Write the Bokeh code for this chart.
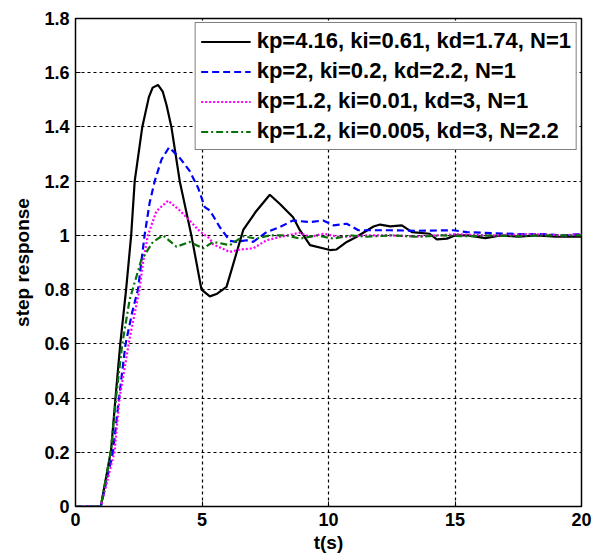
from bokeh.plotting import figure
from bokeh.models import Legend, LegendItem, FixedTicker, Range1d
from bokeh.embed import file_html
from bokeh.resources import INLINE

# ---- data ----
t_black = [0, 1.0, 1.41, 1.58, 1.77, 2.0, 2.2, 2.34, 2.64, 2.9, 3.05, 3.26, 3.45, 3.6, 3.79, 4.12, 4.58, 4.98, 5.31, 5.6, 5.97,
           6.36, 6.63, 7.15, 7.68, 8.08, 8.6, 8.87, 9.27, 10.06, 10.32, 10.72, 11.1, 11.78, 12.04, 12.44, 12.9, 13.3,
           14.0, 14.28, 14.68, 15.0, 15.5, 16.2, 16.8, 17.5, 18.2, 19.0, 20.0]
v_black = [0, 0, 0.21, 0.40, 0.60, 0.80, 1.00, 1.20, 1.40, 1.51, 1.545, 1.555, 1.53, 1.48, 1.40, 1.20, 1.00, 0.80, 0.775, 0.785, 0.81,
           0.934, 1.02, 1.09, 1.15, 1.116, 1.067, 1.019, 0.964, 0.946, 0.948, 0.976, 0.994, 1.033, 1.04, 1.033, 1.037, 1.012,
           1.006, 0.985, 0.988, 1.0, 1.0, 0.99, 1.0, 0.995, 1.0, 0.995, 0.995]

t_blue = [0, 1.0, 1.48, 1.72, 1.98, 2.25, 2.47, 2.73, 2.93, 3.13, 3.4, 3.70, 4.12, 4.51, 4.84, 5.11, 5.31, 5.70, 6.1,
          6.36, 6.76, 7.02, 7.55, 8.08, 8.6, 9.27, 9.79, 10.19, 10.72, 11.18, 12.44, 13.5, 14.94, 15.47, 16.5, 17.5,
          18.5, 19.3, 20.0]
v_blue = [0, 0, 0.20, 0.40, 0.60, 0.72, 0.80, 1.00, 1.12, 1.20, 1.28, 1.325, 1.286, 1.238, 1.177, 1.104, 1.092, 1.031, 0.98,
          0.976, 0.982, 0.976, 1.012, 1.031, 1.055, 1.049, 1.055, 1.037, 1.043, 1.019, 1.019, 1.017, 1.019, 1.012, 1.008,
          1.005, 1.005, 1.0, 1.005]

t_mag = [0, 1.0, 1.54, 1.74, 2.14, 2.53, 2.67, 2.86, 3.2, 3.66, 4.12, 4.51, 4.91, 5.31, 5.44, 6.1, 6.5, 7.02, 7.55,
         8.08, 8.87, 9.27, 9.79, 10.46, 11.5, 12.5, 13.5, 15.0, 16.5, 18.0, 19.3, 20.0]
v_mag = [0, 0, 0.20, 0.40, 0.62, 0.80, 0.90, 1.00, 1.09, 1.128, 1.092, 1.055, 1.015, 0.988, 0.967, 0.939, 0.948, 0.952, 0.982,
         0.994, 1.01, 0.994, 1.006, 0.994, 1.0, 1.0, 0.996, 1.004, 1.0, 1.005, 1.0, 1.005]

t_green = [0, 1.0, 1.39, 1.6, 1.85, 2.14, 2.6, 3.06, 3.46, 3.99, 4.51, 5.04, 5.44, 6.1, 6.63, 7.15, 7.68, 8.34, 8.87,
           9.53, 10.19, 10.85, 11.5, 12.5, 13.5, 14.5, 15.5, 16.5, 17.5, 18.5, 19.3, 20.0]
v_green = [0, 0, 0.20, 0.40, 0.60, 0.763, 0.909, 0.976, 1.0, 0.958, 0.976, 0.952, 0.976, 0.964, 0.997, 0.988, 1.0, 1.0, 0.988,
           1.0, 0.988, 1.0, 0.995, 1.0, 0.995, 1.0, 0.997, 1.0, 0.997, 1.0, 1.0, 1.0]

labels = ["kp=4.16, ki=0.61, kd=1.74, N=1",
          "kp=2, ki=0.2, kd=2.2, N=1",
          "kp=1.2, ki=0.01, kd=3, N=1",
          "kp=1.2, ki=0.005, kd=3, N=2.2"]
x_ticks = [0, 5, 10, 15, 20]
y_ticks = [0, 0.2, 0.4, 0.6, 0.8, 1.0, 1.2, 1.4, 1.6, 1.8]
y_tick_labels = {0: "0", 0.2: "0.2", 0.4: "0.4", 0.6: "0.6", 0.8: "0.8", 1.0: "1", 1.2: "1.2", 1.4: "1.4", 1.6: "1.6", 1.8: "1.8"}

FONT = "Liberation Sans"

p = figure(width=593, height=555, output_backend="svg", toolbar_location=None,
           x_range=Range1d(0, 20), y_range=Range1d(0, 1.8),
           min_border_left=75, min_border_right=12, min_border_top=18, min_border_bottom=47)
p.background_fill_color = "white"
p.border_fill_color = "white"
p.outline_line_color = "black"
p.outline_line_width = 1.5

r1 = p.line(t_black, v_black, line_color="black", line_width=2.2)
r2 = p.line(t_blue, v_blue, line_color="#0000ff", line_width=2.2, line_dash="7 4")
r3 = p.line(t_mag, v_mag, line_color="#ff00ff", line_width=2.2, line_dash="2 2")
r4 = p.line(t_green, v_green, line_color="#0a700a", line_width=2.2, line_dash="7 3 2 3")

for ax in (p.xaxis[0], p.yaxis[0]):
    ax.major_tick_in = 5
    ax.major_tick_out = 0
    ax.minor_tick_in = 0
    ax.minor_tick_out = 0
    ax.axis_line_color = "black"
    ax.major_tick_line_color = "black"
    ax.major_label_text_font = FONT
    ax.major_label_text_font_style = "bold"
    ax.major_label_text_font_size = "18px"
    ax.major_label_text_color = "black"
    ax.axis_label_text_font = FONT
    ax.axis_label_text_font_style = "bold"
    ax.axis_label_text_color = "black"

p.xaxis[0].ticker = FixedTicker(ticks=x_ticks)
p.yaxis[0].ticker = FixedTicker(ticks=y_ticks)
p.yaxis[0].major_label_overrides = y_tick_labels
p.xaxis[0].axis_label = "t(s)"
p.xaxis[0].axis_label_text_font_size = "19px"
p.xaxis[0].major_label_standoff = 6
p.xaxis[0].axis_label_standoff = 3
p.yaxis[0].axis_label = "step response"
p.yaxis[0].axis_label_text_font_size = "19px"
p.yaxis[0].major_label_standoff = 6
p.yaxis[0].axis_label_standoff = 8

p.xgrid.ticker = FixedTicker(ticks=x_ticks)
p.ygrid.ticker = FixedTicker(ticks=y_ticks)
for g in (p.xgrid[0], p.ygrid[0]):
    g.grid_line_color = "black"
    g.grid_line_dash = "3 3"
    g.grid_line_width = 1.2

legend = Legend(items=[LegendItem(label=labels[0], renderers=[r1]),
                       LegendItem(label=labels[1], renderers=[r2]),
                       LegendItem(label=labels[2], renderers=[r3]),
                       LegendItem(label=labels[3], renderers=[r4])],
                location="top_right")
legend.margin = 4
legend.padding = 5
legend.spacing = 4
legend.glyph_width = 50
legend.glyph_height = 21
legend.label_height = 21
legend.label_standoff = 6
legend.label_text_font = FONT
legend.label_text_font_style = "bold"
legend.label_text_font_size = "22px"
legend.label_text_color = "black"
legend.border_line_color = "black"
legend.border_line_width = 1.5
legend.background_fill_color = "white"
legend.background_fill_alpha = 1.0
p.add_layout(legend)

open("out.html", "w").write(file_html(p, INLINE))
